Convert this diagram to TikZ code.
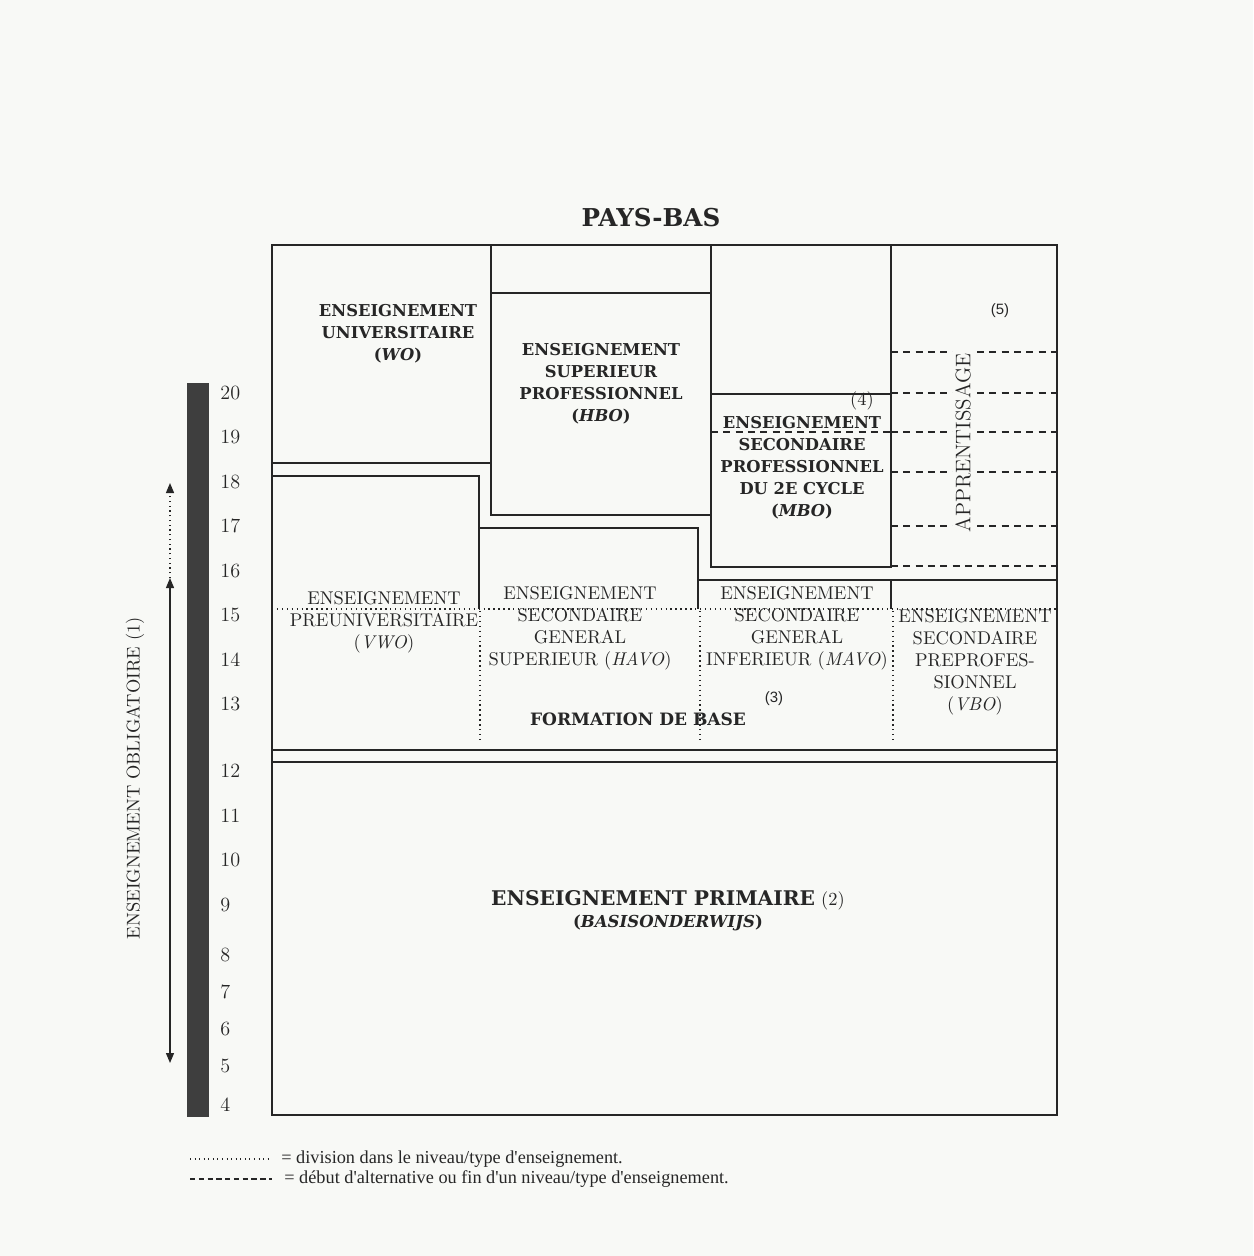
\documentclass[tikz,border=0pt]{standalone}
\usepackage{fontspec}
\newfontfamily\legendfont{Liberation Serif}
\newfontfamily\notefont{Liberation Sans}
\newfontfamily\slabfont{DejaVu Serif}
\usetikzlibrary{arrows.meta}
\definecolor{dink}{RGB}{38,38,38}
\definecolor{dbar}{RGB}{62,62,62}
\definecolor{paper}{RGB}{248,249,246}
\tikzset{
  wall/.style={dink,line width=1pt},
  dotline/.style={dink,line width=0.8pt,dotted},
  dashline/.style={dink,line width=0.8pt,dash pattern=on 4pt off 3pt},
  lbl/.style={dink,align=center,inner sep=0pt,font=\fontsize{10.5}{12.5}\selectfont},
  blbl/.style={lbl,font=\slabfont\bfseries\fontsize{9.3}{12.5}\selectfont},
  note/.style={dink,inner sep=0pt,font=\notefont\fontsize{8.5}{10}\selectfont},
  agenum/.style={dink,anchor=west,inner sep=0pt,font=\fontsize{11.5}{13}\selectfont},
  leg/.style={dink,anchor=west,inner sep=0pt,font=\legendfont\fontsize{10.4}{12}\selectfont},
  oblarrow/.style={dink,line width=0.7pt,>={Triangle[length=2mm,width=1.6mm]}}
}

\begin{document}
\begin{tikzpicture}[x=0.02cm,y=-0.02cm]
  \useasboundingbox[fill=paper] (0,0) rectangle (1253,1256);
  \node[dink,font=\slabfont\bfseries\fontsize{14}{16}\selectfont] (title) at (651,218) {PAYS-BAS};
  % frame and blocks
  \draw[wall] (272,245) rectangle (1057,1115);
  \draw[wall] (272,463) -- (491,463);
  \draw[wall] (272,476) -- (479,476) -- (479,609);
  \draw[wall] (491,245) -- (491,515) -- (711,515);
  \draw[wall] (491,293) -- (711,293);
  \draw[wall] (479,528) -- (698,528) -- (698,609);
  \draw[wall] (711,245) -- (711,567) -- (891,567) -- (891,245);
  \draw[wall] (711,394) -- (891,394);
  \draw[wall] (698,580) -- (1057,580);
  \draw[wall] (891,580) -- (891,609);
  \draw[wall] (272,750) -- (1057,750);
  \draw[wall] (272,762) -- (1057,762);
  % divisions
  \draw[dotline] (272,609) -- (1057,609);
  \foreach \x in {480,700,893}
    \draw[dotline] (\x,611) -- (\x,742);
  \foreach \y in {352,393,432,472,526,566}
    \draw[dashline] (891,\y) -- (1057,\y);
  \draw[dashline] (711,432) -- (891,432);
  % age scale
  \fill[dbar] (187,383) rectangle (209,1117);
  \foreach \a/\y in {20/393,19/437,18/482,17/526,16/571,15/615,14/660,13/704,
                     12/771,11/816,10/860,9/905,8/955,7/992,6/1029,5/1066,4/1105}
    \node[agenum] (age\a) at (220,\y) {\a};
  \coordinate (oblTop) at (170,483);
  \coordinate (oblMid) at (170,578);
  \coordinate (oblBot) at (170,1063);
  \draw[oblarrow,dotted,->] (oblMid) -- (oblTop);
  \draw[oblarrow,<->] (oblBot) -- (oblMid);
  \node[lbl,rotate=90] (obl) at (135,778) {ENSEIGNEMENT OBLIGATOIRE (1)};
  % labels
  \node[blbl] (wo) at (398,334) {ENSEIGNEMENT\\UNIVERSITAIRE\\(\textit{WO})};
  \node[blbl] (hbo) at (601,384) {ENSEIGNEMENT\\SUPERIEUR\\PROFESSIONNEL\\(\textit{HBO})};
  \node[blbl] (mbo) at (802,468) {ENSEIGNEMENT\\SECONDAIRE\\PROFESSIONNEL\\DU 2E CYCLE\\(\textit{MBO})};
  \node[lbl] (n4) at (862,401) {(4)};
  \node[note] (n5) at (1000,311) {(5)};
  \node[lbl,rotate=90,fill=paper,inner sep=1.5pt,font=\fontsize{12}{14}\selectfont] (appr) at (963,443) {APPRENTISSAGE};
  \node[lbl] (vwo) at (384,622) {ENSEIGNEMENT\\PREUNIVERSITAIRE\\(\textit{VWO})};
  \node[lbl] (havo) at (580,628) {ENSEIGNEMENT\\SECONDAIRE\\GENERAL\\SUPERIEUR (\textit{HAVO})};
  \node[lbl] (mavo) at (797,628) {ENSEIGNEMENT\\SECONDAIRE\\GENERAL\\INFERIEUR (\textit{MAVO})};
  \node[lbl] (vbo) at (975,662) {ENSEIGNEMENT\\SECONDAIRE\\PREPROFES-\\SIONNEL\\(\textit{VBO})};
  \node[note] (n3) at (774,699) {(3)};
  \node[blbl,font=\slabfont\bfseries\fontsize{9.7}{12}\selectfont] (base) at (638,719) {FORMATION DE BASE};
  \node[lbl] (prim) at (668,911) {{\slabfont\bfseries\fontsize{11.5}{14}\selectfont ENSEIGNEMENT PRIMAIRE} (2)\\{\slabfont\bfseries\fontsize{9.4}{12}\selectfont(\textit{BASISONDERWIJS})}};
  % legend
  \coordinate (dotA) at (190,1159);
  \coordinate (dotB) at (270,1159);
  \coordinate (dashA) at (190,1179);
  \coordinate (dashB) at (272,1179);
  \draw[dink,line width=0.6pt,dotted] (dotA) -- (dotB);
  \draw[dink,line width=0.6pt,dash pattern=on 3pt off 2pt] (dashA) -- (dashB);
  \node[leg] (legdot) at (281,1159) {= division dans le niveau/type d'enseignement.};
  \node[leg] (legdash) at (284,1179) {= début d'alternative ou fin d'un niveau/type d'enseignement.};
\end{tikzpicture}
\end{document}
